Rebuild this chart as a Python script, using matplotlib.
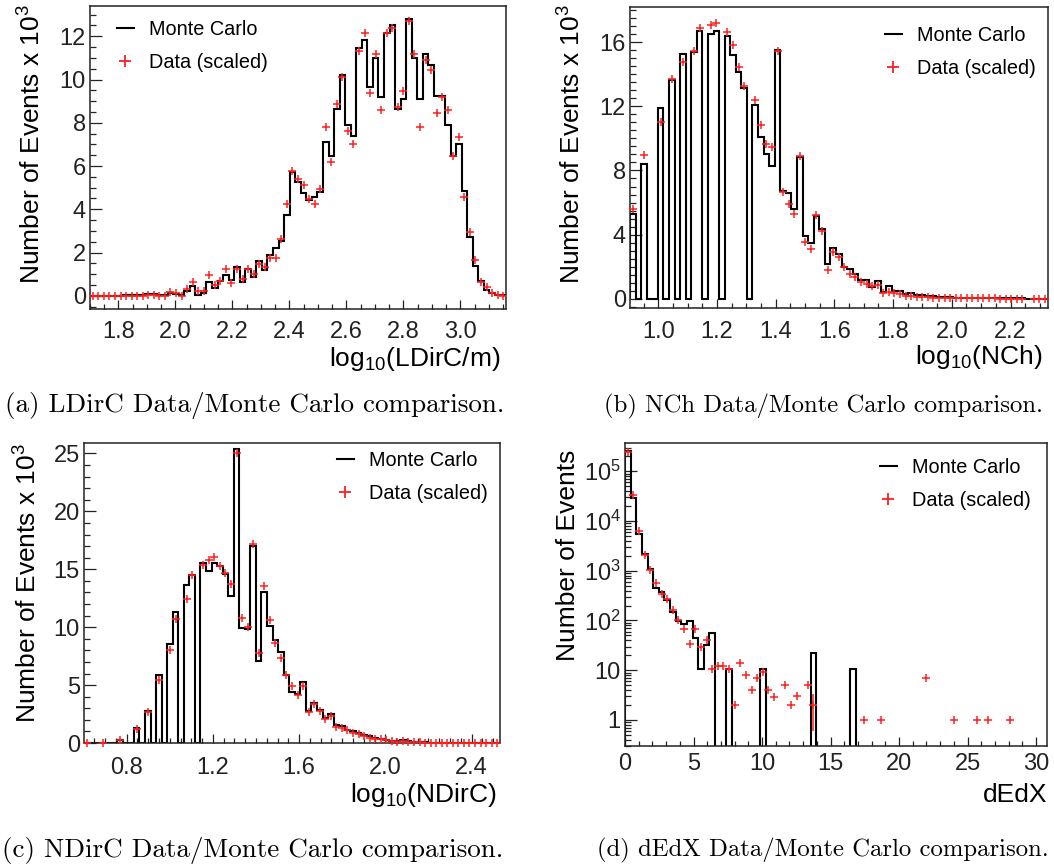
import numpy as np
import matplotlib
matplotlib.use("Agg")
import matplotlib.pyplot as plt
from matplotlib.ticker import MultipleLocator, FuncFormatter, LogLocator, NullFormatter, FormatStrFormatter
from matplotlib.lines import Line2D

nan = np.nan

# ---------------- data ----------------
# (a) log10(LDirC/m): 75 bins
a_range = (1.70, 3.16)
a_mc = [0.01, 0.01, 0.01, 0.01, 0.01, 0.01, 0.02, 0.02, 0.02, 0.02,
        0.07, 0.07, 0.05, 0.05, 0.15, 0.08, 0.04, 0.23, 0.45, 0.06,
        0.14, 0.65, 0.34, 0.68, 0.94, 0.72, 1.34, 0.65, 1.26, 0.88,
        1.62, 1.19, 1.88, 2.19, 2.54, 3.73,
        5.73, 5.24, 4.76, 4.41, 4.58, 4.79, 7.12, 6.47, 8.66, 10.2,
        7.89, 7.4, 11.48, 11.85, 9.66, 11.0, 9.18, 12.14, 12.53, 8.66,
        9.1, 12.82, 11.0, 9.1, 11.2, 10.65, 9.24, 9.24, 7.89, 6.46,
        7.04, 4.85, 2.73, 1.37, 0.69, 0.29, 0.14, 0.05, 0.02]
a_data = [0.0, 0.0, 0.0, 0.0, 0.0, 0.0, 0.0, 0.0, 0.0, 0.01,
          0.03, 0.03, 0.01, 0.01, 0.18, 0.14, 0.01, 0.3, 0.63, 0.2,
          0.23, 0.95, 0.49, 0.68, 1.25, 0.57, 1.23, 0.8, 1.22, 1.03,
          1.45, 1.31, 1.77, 1.73, 2.62, 4.24,
          5.76, 5.39, 5.12, 4.47, 4.24, 4.96, 7.8, 6.18, 8.87, 10.12,
          7.63, 7.03, 11.33, 12.14, 9.38, 11.2, 8.58, 12.17, 12.36, 8.74,
          9.45, 12.71, 11.2, 7.8, 10.9, 10.43, 8.47, 9.17, 8.58, 6.47,
          7.32, 4.58, 2.97, 1.65, 0.62, 0.39, 0.15, 0.05, 0.01]

# (b) log10(NCh): 75 bins
b_range = (0.9035, 2.326)
b_mc = [5.28, 0, 8.38, 0, 0, 11.89, 0, 13.66, 0, 15.28,
        0, 15.4, 16.69, 0, 16.5, 16.69, 0, 16.4, 15.18, 14.12,
        13.16, 0, 12.08, 10.12, 9.04, 8.3, 15.49, 6.72, 6.59, 5.59,
        8.84, 3.93, 3.47, 5.18, 4.35, 2.16, 3.14, 2.8, 1.99, 1.87,
        1.54, 1.15, 1.15, 0.75, 1.09, 0.43, 0.77, 0.46, 0.5, 0.27,
        0.36, 0.22, 0.21, 0.18, 0.14, 0.1, 0.09, 0.08, 0.07, 0.06,
        0.05, 0.05, 0.04, 0.04, 0.03, 0.03, 0.03, 0.02, 0.02, 0.02,
        0.02, 0.01, 0.01, 0.01, 0.01]
b_data = [5.61, nan, 8.96, nan, nan, 11.0, nan, 13.72, nan, 14.76,
          nan, 15.47, 16.88, nan, 17.09, 17.23, nan, 16.63, 15.8, 14.45,
          13.24, nan, 12.41, 10.85, 9.65, 9.44, 15.43, 6.64, 5.9, 5.28,
          8.88, 3.55, 3.1, 5.2, 4.24, 1.81, 2.91, 2.6, 1.96, 1.54,
          1.33, 1.06, 0.94, 0.77, 0.87, 0.35, 0.44, 0.35, 0.29, 0.19,
          0.19, 0.12, 0.12, 0.08, 0.06, 0.05, 0.05, 0.04, 0.04, 0.03,
          0.03, 0.03, 0.02, 0.02, 0.02, 0.02, 0.01, 0.01, 0.01, 0.01,
          0.01, nan, 0.01, 0.01, 0.01]

# (c) log10(NDirC): 75 bins
c_range = (0.602, 2.532)
c_mc = [0, 0, 0, 0.02, 0, 0, 0.23, 0, 0, 1.32,
        0, 2.76, 0, 5.9, 0, 8.58, 11.3, 0, 13.68, 14.5,
        0, 15.5, 14.86, 15.5, 15.3, 14.57, 12.73, 25.37, 9.94, 9.85,
        17.0, 7.06, 13.05, 10.1, 8.87, 7.83, 5.85, 4.44, 4.2, 5.27,
        2.76, 3.46, 2.82, 2.19, 2.48, 1.56, 1.44, 1.15, 1.04, 0.89,
        0.66, 0.58, 0.46, 0.37, 0.29, 0.2, 0.14, 0.26, 0.14, 0.12,
        0.09, 0.06, 0.04, 0.03, 0.02, 0.02, 0.01, 0.01, 0.01, 0.01,
        0.0, 0.0, 0.0, 0.0, 0.0]
c_data = [0.0, nan, nan, 0.02, nan, nan, 0.29, nan, nan, 1.2,
          nan, 2.68, nan, 5.41, nan, 8.0, 10.69, nan, 12.47, 14.49,
          nan, 15.35, 15.78, 16.07, 15.29, 14.69, 13.77, 25.0, 10.8, 10.02,
          17.22, 7.8, 13.57, 10.6, 8.64, 7.34, 5.85, 4.92, 4.12, 4.9,
          2.68, 3.34, 2.76, 2.07, 2.3, 1.38, 1.32, 1.09, 0.86, 0.75,
          0.58, 0.46, 0.37, 0.32, 0.23, 0.2, 0.12, 0.14, 0.09, 0.06,
          0.05, 0.04, 0.03, 0.02, 0.02, 0.01, 0.01, 0.01, 0.01, 0.01,
          0.0, 0.0, 0.0, 0.0, 0.0]

# (d) dEdX: 75 bins, log y
d_range = (0.0, 30.8)
d_mc = [2.5e5, 2.95e4, 5.5e3, 2.15e3, 1.11e3, 440, 366, 257, 150, 97,
        85, 97, 43.7, 10.7, 32.6, 55, 0, 0, 10.7, 0,
        0, 0, 0, 0, 10.7, 0, 0, 0, 0, 0,
        0, 0, 0, 21.8, 0, 0, 0, 0, 0, 0,
        10.7, 0, 0, 0, 0, 0, 0, 0, 0, 0,
        0, 0, 0, 0, 0, 0, 0, 0, 0, 0,
        0, 0, 0, 0, 0, 0, 0, 0, 0, 0,
        0, 0, 0, 0, 0]
d_data = [2.44e5, 3.4e4, 6.3e3, 2.1e3, 1.03e3, 573, 338, 272, 161, 102,
          69, 33.6, 69, 29.6, 40.5, 10.7, 12.1, 12.1, 10.7, 2.0,
          14.1, 8.0, 4.1, 7.0, 9.1, 4.1, 2.94, nan, 5.0, 2.0,
          3.0, nan, 5.0, 2.0, nan, nan, nan, nan, nan, nan,
          nan, nan, 1.0, nan, nan, 1.0, nan, nan, nan, nan,
          nan, nan, nan, 7.0, nan, nan, nan, nan, 1.0, nan,
          nan, nan, 1.0, nan, 1.0, nan, nan, nan, 1.0, nan,
          nan, nan, nan, nan, nan]
d_err = [0.0] * 75
d_err[33] = 1.4

captions = ["(a) LDirC Data/Monte Carlo comparison.",
            "(b) NCh Data/Monte Carlo comparison.",
            "(c) NDirC Data/Monte Carlo comparison.",
            "(d) dEdX Data/Monte Carlo comparison."]
xlabels = [r"log$_{10}$(LDirC/m)", r"log$_{10}$(NCh)", r"log$_{10}$(NDirC)", "dEdX"]
ylabels = [r"Number of Events x 10$^{3}$", r"Number of Events x 10$^{3}$",
           r"Number of Events x 10$^{3}$", "Number of Events"]
legend_labels = ["Monte Carlo", "Data (scaled)"]

# ---------------- style ----------------
plt.rcParams['font.family'] = ['Liberation Sans', 'DejaVu Sans']
plt.rcParams['mathtext.fontset'] = 'custom'
plt.rcParams['mathtext.rm'] = 'Liberation Sans'
plt.rcParams['mathtext.it'] = 'Liberation Sans:italic'
plt.rcParams['mathtext.bf'] = 'Liberation Sans:bold'

W, H = 1054, 866
fig = plt.figure(figsize=(W / 100, H / 100), dpi=100)


def rect(l, t, r, b):
    return [l / W, 1 - b / H, (r - l) / W, (b - t) / H]


TICK_FS = 17
LAB_FS = 19
LEG_FS = 14.3
CAP_FS_L = 19.5
CAP_FS_R = 17.8
FRAME = '#222222'


def style(ax, xpad=9):
    for s in ax.spines.values():
        s.set_linewidth(1.1)
        s.set_color(FRAME)
    ax.tick_params(which='both', direction='in', top=False, right=False,
                   labelsize=TICK_FS, colors=FRAME, width=0.9)
    ax.tick_params(axis='y', which='major', length=8.6, pad=3)
    ax.tick_params(axis='y', which='minor', length=4.3)
    ax.tick_params(axis='x', which='major', length=6.5, pad=xpad)
    ax.tick_params(axis='x', which='minor', length=3.3)


def draw(ax, rng, mc, data, log=False, err=None):
    mc = np.asarray(mc, float)
    data = np.asarray(data, float)
    edges = np.linspace(rng[0], rng[1], len(mc) + 1)
    centers = 0.5 * (edges[:-1] + edges[1:])
    if log:
        floor = 1e-2
        ax.stairs(np.where(mc > 0, mc, floor), edges, baseline=floor,
                  color='black', lw=1.5, zorder=2)
    else:
        ax.stairs(mc, edges, baseline=0, color='black', lw=1.5, zorder=2)
    ax.plot(centers, data, ls='none', marker='+', color='#ff2020', ms=6,
            mew=1.1, zorder=3, clip_on=False)
    if err is not None:
        err = np.asarray(err, float)
        m = err > 0
        ax.errorbar(centers[m], data[m], yerr=err[m], fmt='none',
                    ecolor='#ff2020', elinewidth=1.1, capsize=0, zorder=3)
    ax.set_xlim(*rng)


def legend(ax, x, y):
    h = [Line2D([], [], color='black', lw=1.5),
         Line2D([], [], ls='none', marker='+', color='#ff2020', ms=8, mew=1.3)]
    ax.legend(h, legend_labels, loc='upper left',
              bbox_to_anchor=(x / W, 1 - y / H), bbox_transform=fig.transFigure,
              frameon=False, fontsize=LEG_FS, handlelength=0.85,
              handletextpad=0.75, labelspacing=0.68, borderpad=0,
              borderaxespad=0, numpoints=1)


fmt1 = FormatStrFormatter('%.1f')

# ---- (a)
ax = fig.add_axes(rect(90, 6, 506, 309))
draw(ax, a_range, a_mc, a_data)
ax.set_ylim(-0.61, 13.4)
ax.xaxis.set_major_locator(MultipleLocator(0.2))
ax.xaxis.set_minor_locator(MultipleLocator(0.05))
ax.xaxis.set_major_formatter(fmt1)
ax.yaxis.set_major_locator(MultipleLocator(2))
ax.yaxis.set_minor_locator(MultipleLocator(0.5))
style(ax)
legend(ax, 117, 20)

# ---- (b)
ax = fig.add_axes(rect(630, 7, 1047.5, 308))
draw(ax, b_range, b_mc, b_data)
ax.set_ylim(-0.58, 18.2)
ax.xaxis.set_major_locator(MultipleLocator(0.2))
ax.xaxis.set_minor_locator(MultipleLocator(0.05))
ax.xaxis.set_major_formatter(fmt1)
ax.yaxis.set_major_locator(MultipleLocator(4))
ax.yaxis.set_minor_locator(MultipleLocator(0.5))
style(ax)
legend(ax, 885, 26)

# ---- (c)
ax = fig.add_axes(rect(84, 443, 500, 743))
draw(ax, c_range, c_mc, c_data)
ax.set_ylim(0, 25.9)
ax.xaxis.set_major_locator(MultipleLocator(0.4))
ax.xaxis.set_minor_locator(MultipleLocator(0.05))
ax.xaxis.set_major_formatter(fmt1)
ax.yaxis.set_major_locator(MultipleLocator(5))
ax.yaxis.set_minor_locator(MultipleLocator(1))
style(ax, xpad=10)
legend(ax, 337, 451)

# ---- (d)
ax = fig.add_axes(rect(625, 443, 1047, 746))
draw(ax, d_range, d_mc, d_data, log=True, err=d_err)
ax.set_yscale('log')
ax.set_ylim(0.3, 3.7e5)
ax.xaxis.set_major_locator(MultipleLocator(5))
ax.xaxis.set_minor_locator(MultipleLocator(1))
ax.yaxis.set_major_locator(LogLocator(base=10, numticks=12))
ax.yaxis.set_minor_locator(LogLocator(base=10, subs=np.arange(2, 10), numticks=12))
ax.yaxis.set_minor_formatter(NullFormatter())


def logfmt(v, p):
    e = int(round(np.log10(v)))
    if e == 0:
        return '1'
    if e == 1:
        return '10'
    return r'$10^{%d}$' % e


ax.yaxis.set_major_formatter(FuncFormatter(logfmt))
style(ax, xpad=5)
legend(ax, 880, 458)

# ---------------- axis titles ----------------
fig.text(500 / W, 1 - 366 / H, xlabels[0], fontsize=LAB_FS, ha='right', va='baseline')
fig.text(1042 / W, 1 - 364 / H, xlabels[1], fontsize=LAB_FS, ha='right', va='baseline')
fig.text(496 / W, 1 - 802 / H, xlabels[2], fontsize=LAB_FS, ha='right', va='baseline')
fig.text(1047 / W, 1 - 802 / H, xlabels[3], fontsize=LAB_FS, ha='right', va='baseline')
fig.text(32 / W, 1 - 4 / H, ylabels[0], fontsize=LAB_FS, rotation=90, ha='center', va='top')
fig.text(572 / W, 1 - 4 / H, ylabels[1], fontsize=LAB_FS, rotation=90, ha='center', va='top')
fig.text(28 / W, 1 - 443 / H, ylabels[2], fontsize=LAB_FS, rotation=90, ha='center', va='top')
fig.text(568 / W, 1 - 450 / H, ylabels[3], fontsize=LAB_FS, rotation=90, ha='center', va='top')

# ---------------- captions ----------------
fig.text(255 / W, 1 - 406 / H, captions[0], family='cmr10', fontsize=CAP_FS_L, ha='center', va='center')
fig.text(823 / W, 1 - 406 / H, captions[1], family='cmr10', fontsize=CAP_FS_R, ha='center', va='center')
fig.text(253 / W, 1 - 850 / H, captions[2], family='cmr10', fontsize=CAP_FS_L, ha='center', va='center')
fig.text(823 / W, 1 - 850 / H, captions[3], family='cmr10', fontsize=CAP_FS_R, ha='center', va='center')

fig.savefig('out.png', dpi=100)
